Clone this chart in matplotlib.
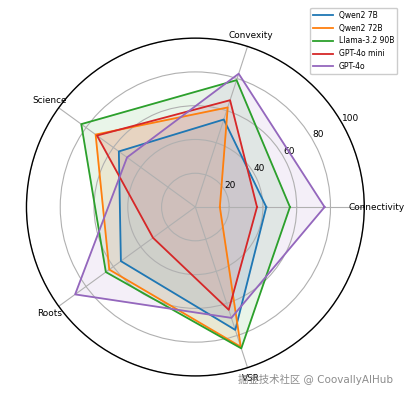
import numpy as np
import matplotlib.pyplot as plt

plt.rcParams['font.family'] = ['DejaVu Sans', 'Noto Sans CJK SC']

categories = ['Connectivity', 'Convexity', 'Science', 'Roots', 'VSR']
models = ['Qwen2 7B', 'Qwen2 72B', 'Llama-3.2 90B', 'GPT-4o mini', 'GPT-4o']
qwen2_7b = [42, 54.5, 56, 54.5, 76.5]
qwen2_72b = [14.5, 62, 73, 63, 87]
llama_90b = [56, 79, 83.5, 65.5, 88]
gpt4o_mini = [36.5, 66.5, 72, 31, 64]
gpt4o = [76.5, 83, 50, 88, 69]
scores = [qwen2_7b, qwen2_72b, llama_90b, gpt4o_mini, gpt4o]
r_ticks = [20, 40, 60, 80, 100]

angles = np.linspace(0, 2 * np.pi, len(categories), endpoint=False).tolist()
angles += angles[:1]

fig = plt.figure(figsize=(4.07, 3.97), dpi=100)
ax = fig.add_axes([0.065, 0.053, 0.830, 0.851], polar=True)

for name, vals in zip(models, scores):
    v = vals + vals[:1]
    line, = ax.plot(angles, v, linewidth=1.3, label=name)
    ax.fill(angles, v, color=line.get_color(), alpha=0.1)

ax.set_ylim(0, 100)
ax.set_yticks(r_ticks)
ax.set_yticklabels([str(t) for t in r_ticks], fontsize=6.5)
ax.set_rlabel_position(30)
ax.set_xticks(angles[:-1])
ax.set_xticklabels([])
# category labels centred just outside the rim
for ang, cat in zip(angles[:-1], categories):
    ax.text(ang, 107, cat, fontsize=6.4, ha='center', va='center')
ax.grid(True, color='#b0b0b0', linewidth=0.8)
ax.spines['polar'].set_color('black')
ax.spines['polar'].set_linewidth(1.0)

ax.legend(loc='upper right', bbox_to_anchor=(0.985, 0.99), bbox_transform=fig.transFigure,
          fontsize=5.5, handlelength=2.5, framealpha=1)

fig.text(0.776, 0.043, '掘金技术社区 @ CoovallyAIHub', fontsize=7.5, color='#808080',
         ha='center', va='center', alpha=0.9)

fig.savefig('out.png', dpi=100)
